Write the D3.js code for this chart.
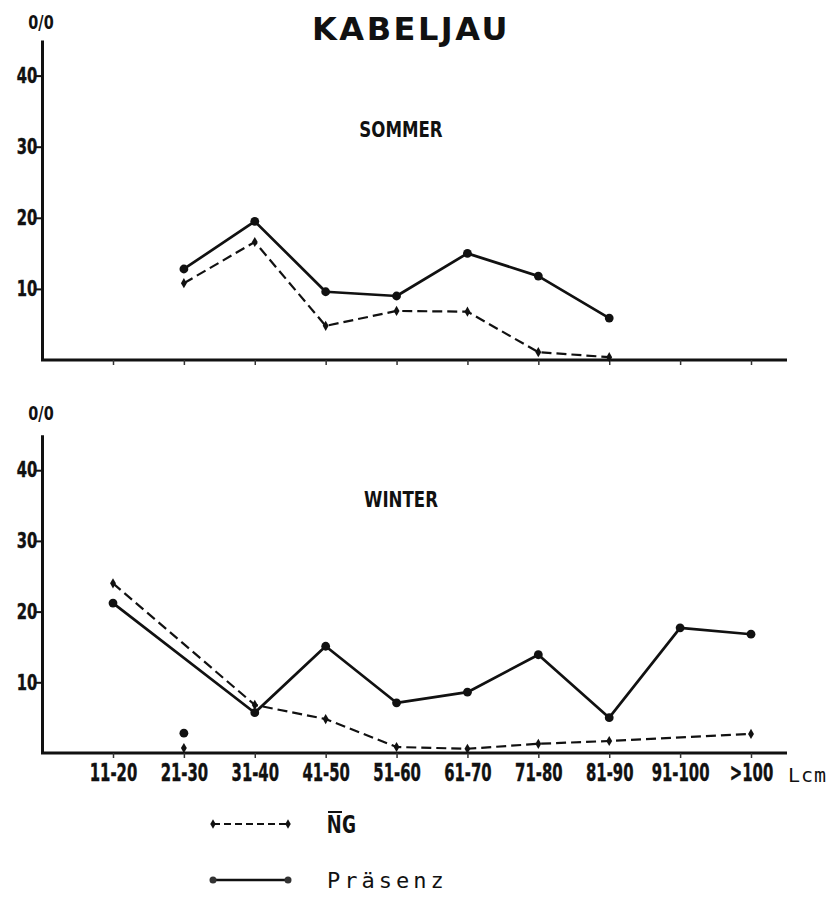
<!DOCTYPE html>
<html>
<head>
<meta charset="utf-8">
<script src="https://cdn.jsdelivr.net/npm/d3@7"></script>
<style>
  html, body { margin: 0; padding: 0; background: #fff; }
  svg { display: block; }
  .lbl { font-family: "DejaVu Sans Condensed", "DejaVu Sans", sans-serif; font-weight: bold; fill: #111; }
  .mono { font-family: "DejaVu Sans Mono", "Liberation Mono", monospace; fill: #111; }
</style>
</head>
<body>
<script>
// Length classes of cod (Kabeljau), percentage per class
const categories = ["11-20", "21-30", "31-40", "41-50", "51-60", "61-70", "71-80", "81-90", "91-100", ">100"];
const yTicks = [10, 20, 30, 40];

// Summer
const sommerPraesenz = [null, 12.8, 19.5, 9.6, 9.0, 15.0, 11.8, 5.9, null, null];
const sommerNG       = [null, 10.8, 16.6, 4.8, 6.9, 6.8, 1.1, 0.4, null, null];

// Winter
const winterPraesenz = [21.2, 2.8, 5.7, 15.1, 7.1, 8.6, 13.9, 5.0, 17.7, 16.8];
const winterNG       = [24.0, 0.7, 6.8, 4.8, 0.85, 0.6, 1.3, 1.7, null, 2.7];
// classes whose markers stand alone, not joined by the line
const winterDetached = ["21-30"];

const W = 840, H = 899;
const svg = d3.select("body").append("svg").attr("width", W).attr("height", H);

const x = d3.scalePoint().domain(categories).range([113, 751]);
const axisX = 42, axisRight = 787;

svg.append("text").attr("class", "lbl")
  .attr("x", 411).attr("y", 40).attr("text-anchor", "middle")
  .style("font-family", "'DejaVu Sans', sans-serif")
  .style("font-size", "32px").style("letter-spacing", "2.5px")
  .text("KABELJAU");

function panel(opts) {
  const g = svg.append("g");
  const y = d3.scaleLinear().domain([0, 45]).range([opts.base, opts.base - 45 * opts.unit]);

  // y axis
  const ya = d3.axisLeft(y).tickValues(yTicks).tickSize(6).tickSizeOuter(0).tickPadding(0);
  const yg = g.append("g").attr("transform", `translate(${axisX},0)`).call(ya);
  yg.select(".domain").attr("stroke", "#111").attr("stroke-width", 3);
  yg.selectAll(".tick line").attr("stroke", "#111").attr("stroke-width", 2);
  yg.selectAll(".tick text").attr("class", "lbl").style("font-size", "21px").attr("fill", "#111")
    .attr("stroke", "#111").attr("stroke-width", 0.4)
    .attr("transform", "scale(0.78,1)");

  // % sign
  g.append("text").attr("class", "lbl").attr("x", 0).attr("y", 0)
    .attr("transform", `translate(41,${opts.pctY}) scale(0.8,1)`)
    .attr("text-anchor", "middle").style("font-size", "20px").text("0/0");

  // x axis baseline and ticks
  g.append("line").attr("x1", axisX - 1).attr("x2", axisRight)
    .attr("y1", y(0)).attr("y2", y(0)).attr("stroke", "#111").attr("stroke-width", 3);
  const xa = d3.axisBottom(x).tickSize(5).tickPadding(5);
  if (!opts.labels) xa.tickFormat("");
  const xg = g.append("g").attr("transform", `translate(0,${y(0)})`).call(xa);
  xg.select(".domain").remove();
  xg.selectAll(".tick line").attr("stroke", "#333").attr("stroke-width", 1.5);
  xg.selectAll(".tick text").attr("class", "lbl").style("font-size", "25px").attr("fill", "#111")
    .attr("stroke", "#111").attr("stroke-width", 0.4)
    .attr("transform", "scale(0.66,1)");

  if (opts.labels) {
    g.append("text").attr("class", "mono").attr("x", 788).attr("y", y(0) + 29)
      .style("font-size", "20px").style("letter-spacing", "1px").text("Lcm");
  }

  g.append("text").attr("class", "lbl").attr("x", 0).attr("y", 0)
    .attr("transform", `translate(401,${opts.titleY}) scale(0.84,1)`)
    .attr("text-anchor", "middle").style("font-size", "22px").text(opts.title);

  const detached = opts.detached || [];
  const series = [
    { vals: opts.ng, dash: "10,5", width: 2.2, marker: "diamond" },
    { vals: opts.pr, dash: null, width: 2.7, marker: "dot" }
  ];
  series.forEach(s => {
    const pts = categories.map((c, i) => ({ c, v: s.vals[i] })).filter(d => d.v != null);
    const joined = pts.filter(d => !detached.includes(d.c));
    const line = d3.line().x(d => x(d.c)).y(d => y(d.v));
    g.append("path").datum(joined).attr("d", line)
      .attr("fill", "none").attr("stroke", "#111").attr("stroke-width", s.width)
      .attr("stroke-linejoin", "round")
      .attr("stroke-dasharray", s.dash);
    if (s.marker === "dot") {
      g.selectAll(null).data(pts).enter().append("circle")
        .attr("cx", d => x(d.c)).attr("cy", d => y(d.v)).attr("r", 4.4).attr("fill", "#111");
    } else {
      g.selectAll(null).data(pts).enter().append("path")
        .attr("transform", d => `translate(${x(d.c)},${y(d.v)})`)
        .attr("d", d3.symbol(d3.symbolDiamond, 30)).attr("fill", "#111");
    }
  });
}

panel({ base: 360, unit: 7.11, title: "SOMMER", titleY: 137, pctY: 29, pr: sommerPraesenz, ng: sommerNG, labels: false });
panel({ base: 753, unit: 7.07, title: "WINTER", titleY: 507, pctY: 420, pr: winterPraesenz, ng: winterNG, labels: true, detached: winterDetached });

// legend
const leg = svg.append("g");
const legItems = [
  { y: 824, dash: "7,4", width: 2, marker: "diamond" },
  { y: 880, dash: null, width: 2.4, marker: "dot" }
];
legItems.forEach(it => {
  leg.append("line").attr("x1", 213).attr("x2", 288).attr("y1", it.y).attr("y2", it.y)
    .attr("stroke", "#111").attr("stroke-width", it.width).attr("stroke-dasharray", it.dash);
  [213, 288].forEach(px => {
    if (it.marker === "dot") {
      leg.append("circle").attr("cx", px).attr("cy", it.y).attr("r", 3.5).attr("fill", "#333");
    } else {
      leg.append("path").attr("transform", `translate(${px},${it.y})`)
        .attr("d", d3.symbol(d3.symbolDiamond, 26)).attr("fill", "#111");
    }
  });
});
leg.append("text").attr("class", "mono").attr("x", 327).attr("y", 833)
  .style("font-size", "24px").style("font-weight", "bold").text("NG");
// bar over the N
leg.append("line").attr("x1", 328).attr("x2", 342).attr("y1", 812).attr("y2", 812)
  .attr("stroke", "#111").attr("stroke-width", 2);
leg.append("text").attr("class", "mono").attr("x", 327).attr("y", 888)
  .style("font-size", "22px").style("letter-spacing", "4px").text("Präsenz");
</script>
</body>
</html>
